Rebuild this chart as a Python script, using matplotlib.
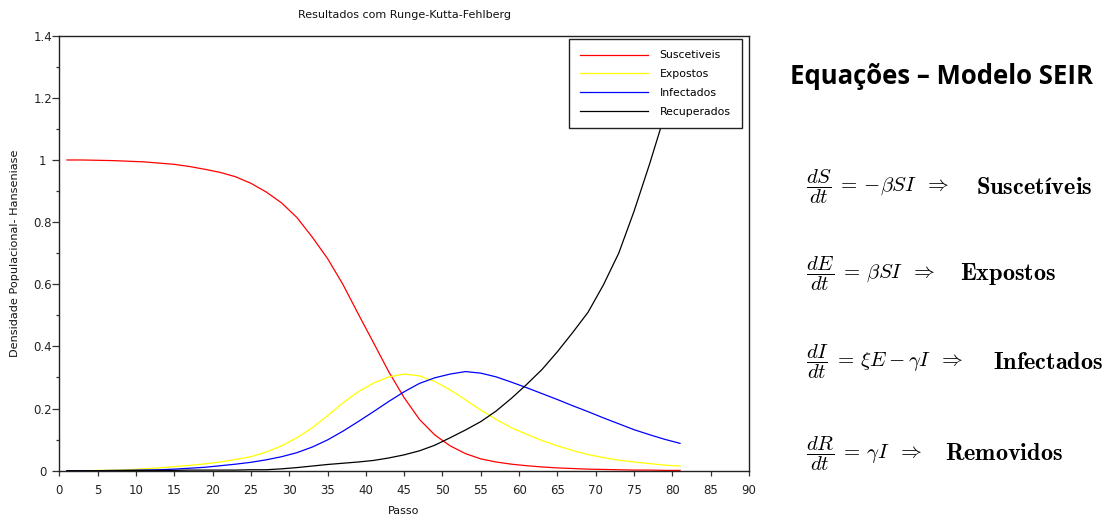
import matplotlib
matplotlib.use("Agg")
import matplotlib.pyplot as plt
from matplotlib.ticker import MultipleLocator

# ---------------- data ----------------
passo = [1, 3, 5, 7, 9, 11, 13, 15, 17, 19, 21, 23, 25, 27, 29, 31, 33, 35, 37,
         39, 41, 43, 45, 47, 49, 51, 53, 55, 57, 59, 61, 63, 65, 67, 69, 71, 73,
         75, 77, 79, 81]
suscetiveis = [1.000, 1.000, 0.999, 0.998, 0.996, 0.994, 0.990, 0.986, 0.979,
               0.970, 0.960, 0.946, 0.925, 0.897, 0.862, 0.815, 0.752, 0.683,
               0.600, 0.505, 0.412, 0.318, 0.235, 0.165, 0.115, 0.080, 0.055,
               0.038, 0.028, 0.021, 0.016, 0.012, 0.009, 0.007, 0.005, 0.004,
               0.003, 0.002, 0.002, 0.001, 0.001]
expostos = [0.000, 0.000, 0.001, 0.002, 0.003, 0.006, 0.009, 0.013, 0.017,
            0.022, 0.028, 0.036, 0.045, 0.060, 0.080, 0.106, 0.138, 0.177,
            0.218, 0.254, 0.282, 0.302, 0.311, 0.305, 0.287, 0.260, 0.228,
            0.195, 0.165, 0.138, 0.117, 0.097, 0.080, 0.065, 0.052, 0.042,
            0.034, 0.028, 0.023, 0.018, 0.015]
infectados = [0.000, 0.000, 0.000, 0.001, 0.001, 0.002, 0.003, 0.005, 0.008,
              0.011, 0.016, 0.021, 0.027, 0.035, 0.045, 0.058, 0.076, 0.099,
              0.127, 0.158, 0.190, 0.223, 0.254, 0.281, 0.299, 0.311, 0.319,
              0.314, 0.302, 0.285, 0.267, 0.248, 0.229, 0.209, 0.190, 0.170,
              0.151, 0.132, 0.116, 0.101, 0.088]
recuperados = [0.000, 0.000, 0.000, 0.000, 0.001, 0.001, 0.001, 0.001, 0.002,
               0.002, 0.002, 0.002, 0.003, 0.003, 0.006, 0.010, 0.015, 0.020,
               0.024, 0.028, 0.033, 0.041, 0.051, 0.064, 0.082, 0.106, 0.131,
               0.158, 0.192, 0.233, 0.278, 0.326, 0.383, 0.445, 0.510, 0.598,
               0.700, 0.835, 0.985, 1.145, 1.300]

series_names = ["Suscetiveis", "Expostos", "Infectados", "Recuperados"]
series_colors = ["#ff0000", "#ffff00", "#0000ff", "#000000"]

xticks = list(range(0, 91, 5))
yticks = [0, 0.2, 0.4, 0.6, 0.8, 1.0, 1.2, 1.4]
ytick_labels = ["0", "0.2", "0.4", "0.6", "0.8", "1", "1.2", "1.4"]

title = "Resultados com Runge-Kutta-Fehlberg"
xlabel = "Passo"
ylabel = "Densidade Populacional- Hanseniase"

heading = "Equações – Modelo SEIR"
equations = [r"$\dfrac{dS}{dt}\;=\,{-}\beta SI\;\;\Rightarrow$",
             r"$\dfrac{dE}{dt}\;=\,\beta SI\;\;\Rightarrow$",
             r"$\dfrac{dI}{dt}\;=\,\xi E - \gamma I\;\;\Rightarrow$",
             r"$\dfrac{dR}{dt}\;=\,\gamma I\;\;\Rightarrow$"]
eq_words = ["Suscetíveis", "Expostos", "Infectados", "Removidos"]

# ---------------- figure ----------------
W, H = 1115, 521
fig = plt.figure(figsize=(W / 100, H / 100), dpi=100)
fig.patch.set_facecolor("white")


def fx(px):
    return px / W


def fy(py):
    return 1 - py / H


ax_l, ax_r, ax_t, ax_b = 59.3, 749.0, 35.7, 470.7
ax = fig.add_axes([fx(ax_l), fy(ax_b), (ax_r - ax_l) / W, (ax_b - ax_t) / H])

for ys, name, col in zip([suscetiveis, expostos, infectados, recuperados],
                         series_names, series_colors):
    ax.plot(passo, ys, color=col, lw=0.9, label=name, solid_joinstyle="round")

ax.set_xlim(0, 90)
ax.set_ylim(0, 1.4)
ax.set_xticks(xticks)
ax.set_xticklabels([str(v) for v in xticks])
ax.set_yticks(yticks)
ax.set_yticklabels(ytick_labels)
ax.yaxis.set_minor_locator(MultipleLocator(0.1))

for lab in ax.get_xticklabels() + ax.get_yticklabels():
    lab.set_fontfamily("DejaVu Sans")
    lab.set_fontsize(8.5)
    lab.set_color("#222222")
for lab in ax.get_yticklabels():
    lab.set_ha("center")

ax.tick_params(axis="x", which="major", direction="out", length=3.8, width=0.9,
               pad=6.0, color="#333333")
ax.tick_params(axis="y", which="major", direction="out", length=5.0, width=0.9,
               pad=7.0, color="#333333")
ax.tick_params(axis="y", which="minor", direction="out", length=2.5, width=0.9,
               color="#333333")
for sp in ax.spines.values():
    sp.set_linewidth(1.0)
    sp.set_color("#222222")

# axis texts
fig.text(fx(404), fy(15), title, ha="center", va="center",
         family="DejaVu Sans", fontsize=8.0, color="#111111")
fig.text(fx(404), fy(511), xlabel, ha="center", va="center",
         family="DejaVu Sans", fontsize=8.0, color="#111111")
fig.text(fx(15), fy(253), ylabel, ha="center", va="center", rotation=90,
         family="DejaVu Sans", fontsize=8.1, color="#111111")

# legend
leg = ax.legend(loc="upper right",
                bbox_to_anchor=(fx(742), fy(39)), bbox_transform=fig.transFigure,
                borderaxespad=0, frameon=True, fancybox=False, framealpha=1,
                edgecolor="#222222", prop=dict(family="DejaVu Sans", size=7.8),
                handlelength=6.3, handletextpad=1.05, labelspacing=0.82,
                borderpad=1.05)
leg.get_frame().set_linewidth(1.0)
leg.set_zorder(10)

# right-hand panel: heading + equations
fig.text(fx(942), fy(77), heading, ha="center", va="center",
         family="Open Sans", fontweight="bold", fontsize=18.5, color="#000000")

eq_rows = [186.7, 273.3, 361.7, 453.3]
word_x = [976, 960, 993, 945]
for eq, word, yrow, wx in zip(equations, eq_words, eq_rows, word_x):
    fig.text(fx(806), fy(yrow), eq, ha="left", va="center",
             math_fontfamily="cm", fontsize=15, color="#000000")
    fig.text(fx(wx), fy(yrow + 7), r"$\mathbf{" + word + "}$", ha="left",
             va="baseline", math_fontfamily="cm", fontsize=17.5, color="#000000")

fig.savefig("out.png", dpi=100, facecolor="white")
